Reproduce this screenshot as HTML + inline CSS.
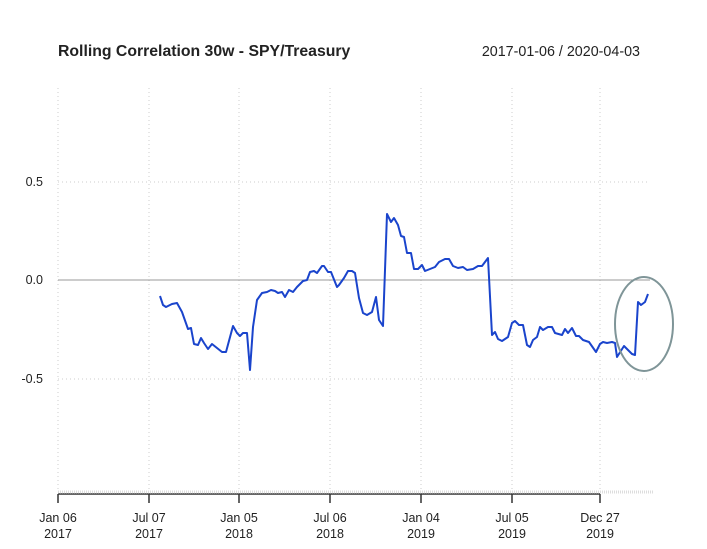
<!DOCTYPE html>
<html><head><meta charset="utf-8"><style>
body{margin:0;background:#fff}
svg{display:block;font-family:"Liberation Sans",Arial,sans-serif}
</style></head><body>
<svg width="707" height="549" viewBox="0 0 707 549">
<rect width="707" height="549" fill="#fff"/>
<text x="58" y="56" font-size="15.8" font-weight="bold" fill="#222">Rolling Correlation 30w - SPY/Treasury</text>
<text x="640" y="56" font-size="14.3" fill="#222" text-anchor="end">2017-01-06 / 2020-04-03</text>
<g stroke="#ccc" stroke-width="1" stroke-dasharray="1,3">
<line x1="58" y1="88" x2="58" y2="490"/><line x1="149" y1="88" x2="149" y2="490"/><line x1="239" y1="88" x2="239" y2="490"/><line x1="330" y1="88" x2="330" y2="490"/><line x1="421" y1="88" x2="421" y2="490"/><line x1="512" y1="88" x2="512" y2="490"/><line x1="600" y1="88" x2="600" y2="490"/>
<line x1="58" y1="182" x2="650" y2="182"/><line x1="58" y1="379" x2="650" y2="379"/>
</g>
<line x1="58" y1="280" x2="650" y2="280" stroke="#999" stroke-width="1"/>
<g font-size="12.5" fill="#222" text-anchor="end">
<text x="43" y="186">0.5</text><text x="43" y="284">0.0</text><text x="43" y="383">-0.5</text>
</g>
<polyline fill="none" stroke="#1a44cc" stroke-width="2" stroke-linejoin="round" points="160,296 163,305 166,307 172,304 177,303 182,312 188,329 191,328 194,344 198,345 201,338 204,343 208,349 212,344 217,348 222,352 226,352 233,326 237,333 240,336 243,333 247,333 250,370 253,327 257,300 262,293 267,292 271,290 275,291 278,293 282,292 285,297 289,290 293,292 297,287 303,281 307,280 310,272 314,271 317,273 322,266 324,266 328,272 331,272 337,287 339,285 344,278 348,271 352,271 355,273 359,298 363,313 367,315 372,312 376,297 379,320 383,326 387,214 391,222 394,218 398,225 401,236 404,237 407,253 411,253 414,269 418,269 422,265 425,271 435,267 439,262 445,259 449,259 453,266 458,268 463,267 467,270 473,269 478,266 482,266 488,258 492,335 495,332 498,339 502,341 508,337 512,323 515,321 519,325 523,325 527,345 530,347 533,340 537,337 540,327 543,330 548,327 552,327 555,333 562,335 565,329 568,333 572,328 576,336 579,336 583,340 589,342 596,352 600,344 603,342 607,343 612,342 615,343 617,357 624,346 632,354 635,355 638,302 641,305 645,302 648,294"/>
<ellipse cx="644" cy="324" rx="29" ry="47" fill="none" stroke="#7f9598" stroke-width="2"/>
<line x1="58" y1="494" x2="600" y2="494" stroke="#333" stroke-width="1.5"/>
<line x1="58" y1="492" x2="654" y2="492" stroke="#ddd" stroke-width="3" stroke-dasharray="1,1"/>
<g stroke="#333" stroke-width="1.5">
<line x1="58" y1="494" x2="58" y2="503"/><line x1="149" y1="494" x2="149" y2="503"/><line x1="239" y1="494" x2="239" y2="503"/><line x1="330" y1="494" x2="330" y2="503"/><line x1="421" y1="494" x2="421" y2="503"/><line x1="512" y1="494" x2="512" y2="503"/><line x1="600" y1="494" x2="600" y2="503"/>
</g>
<g font-size="12.5" fill="#222" text-anchor="middle">
<text x="58" y="522">Jan 06</text><text x="58" y="538">2017</text>
<text x="149" y="522">Jul 07</text><text x="149" y="538">2017</text>
<text x="239" y="522">Jan 05</text><text x="239" y="538">2018</text>
<text x="330" y="522">Jul 06</text><text x="330" y="538">2018</text>
<text x="421" y="522">Jan 04</text><text x="421" y="538">2019</text>
<text x="512" y="522">Jul 05</text><text x="512" y="538">2019</text>
<text x="600" y="522">Dec 27</text><text x="600" y="538">2019</text>
</g>
</svg>
</body></html>
